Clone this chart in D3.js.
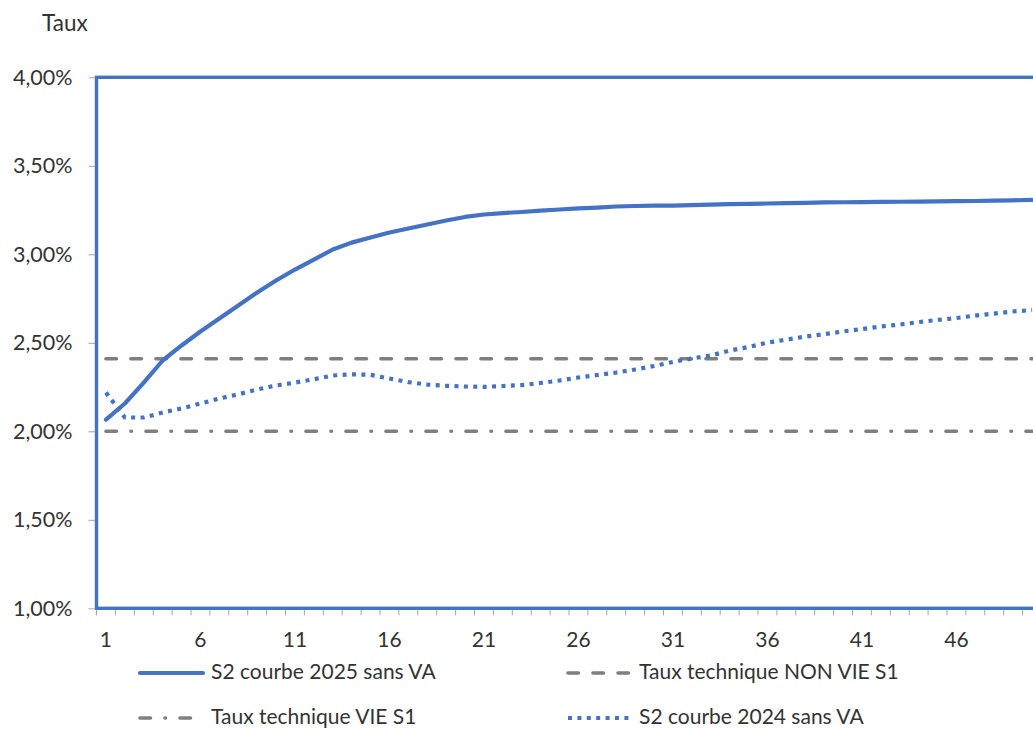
<!DOCTYPE html>
<html>
<head>
<meta charset="utf-8">
<script src="https://cdn.jsdelivr.net/npm/d3@7"></script>
<style>
  html, body { margin: 0; padding: 0; background: #ffffff; overflow: hidden; }
  svg { display: block; font-family: Lato, "Noto Sans", sans-serif; }
</style>
</head>
<body>
<svg id="chart" width="1033" height="729"></svg>
<script>
// ---- Data ----
const categories = d3.range(1, 51);
const yTicks = [1.0, 1.5, 2.0, 2.5, 3.0, 3.5, 4.0];
const xTickLabels = [1, 6, 11, 16, 21, 26, 31, 36, 41, 46];

const s2025 = [2.066, 2.157, 2.275, 2.400, 2.485, 2.564, 2.637, 2.711, 2.784, 2.852,
               2.914, 2.970, 3.027, 3.066, 3.095, 3.123, 3.146, 3.168, 3.191, 3.211,
               3.225, 3.233, 3.239, 3.247, 3.253, 3.259, 3.264, 3.270, 3.273, 3.275,
               3.275, 3.278, 3.281, 3.283, 3.285, 3.287, 3.289, 3.291, 3.293, 3.294,
               3.295, 3.296, 3.297, 3.298, 3.299, 3.300, 3.301, 3.303, 3.305, 3.307];
const s2024 = [2.219, 2.078, 2.078, 2.106, 2.129, 2.157, 2.185, 2.209, 2.236, 2.259,
               2.275, 2.294, 2.315, 2.322, 2.319, 2.298, 2.278, 2.264, 2.257, 2.253,
               2.251, 2.256, 2.261, 2.273, 2.287, 2.304, 2.318, 2.332, 2.349, 2.369,
               2.392, 2.411, 2.428, 2.456, 2.476, 2.501, 2.518, 2.535, 2.549, 2.564,
               2.578, 2.592, 2.603, 2.617, 2.629, 2.640, 2.654, 2.665, 2.677, 2.685];
const tauxNonVie = categories.map(() => 2.41);
const tauxVie = categories.map(() => 2.00);

const seriesNames = ["S2 courbe 2025 sans VA", "Taux technique NON VIE S1",
                     "Taux technique VIE S1", "S2 courbe 2024 sans VA"];

// ---- Layout ----
const svg = d3.select("#chart");
const pLeft = 96.5, pRight = 1041.5, pTop = 77.3, pBottom = 608.3;
const blue = "#4472C4", gray = "#7f7f7f", textColor = "#333333";

const x = d3.scaleBand().domain(categories).range([pLeft, pRight]).padding(0);
const xc = d => x(d) + x.bandwidth() / 2;
const y = d3.scaleLinear().domain([1, 4]).range([pBottom, pTop]);

// x-axis tick marks (category boundaries)
const boundaries = categories.map(c => x(c)).concat([x(categories[categories.length - 1]) + x.bandwidth()]);
svg.append("g").selectAll("line").data(boundaries).join("line")
  .attr("x1", d => d).attr("x2", d => d)
  .attr("y1", pBottom).attr("y2", pBottom + 7)
  .attr("stroke", "#a6a6a6").attr("stroke-width", 1);

// x-axis labels
const xAxis = d3.axisBottom(x).tickValues(xTickLabels).tickSize(0).tickPadding(24);
const gx = svg.append("g").attr("transform", `translate(0,${pBottom})`).call(xAxis);
gx.select(".domain").remove();
gx.selectAll("text").attr("font-size", 21).attr("fill", textColor)
  .attr("font-family", "Lato, 'Noto Sans', sans-serif");

// y-axis
const yAxis = d3.axisLeft(y).tickValues(yTicks).tickSize(8).tickPadding(16)
  .tickFormat(d => d.toFixed(2).replace(".", ",") + "%");
const gy = svg.append("g").attr("transform", `translate(${pLeft},0)`).call(yAxis);
gy.select(".domain").remove();
gy.selectAll("line").attr("stroke", "#a6a6a6");
gy.selectAll("text").attr("font-size", 21.5).attr("fill", textColor)
  .attr("font-family", "Lato, 'Noto Sans', sans-serif");

// y title
svg.append("text").attr("x", 42).attr("y", 25).attr("dominant-baseline", "middle")
  .attr("font-size", 22.5).attr("fill", textColor).text("Taux");

// lines
const line = d3.line().x((d, i) => xc(categories[i])).y(d => y(d));
const styles = [
  { data: s2025, color: blue, width: 4.2, dash: null, cap: "round" },
  { data: tauxNonVie, color: gray, width: 3.6, dash: "10.5,14.5", cap: "round" },
  { data: tauxVie, color: gray, width: 3.6, dash: "10.5,14.5,0.5,14.5", cap: "round" },
  { data: s2024, color: blue, width: 4.2, dash: "4,5.4", cap: "butt" }
];
const drawOrder = [1, 2, 3, 0];
drawOrder.forEach(k => {
  const s = styles[k];
  svg.append("path").datum(s.data)
    .attr("d", line).attr("fill", "none")
    .attr("stroke", s.color).attr("stroke-width", s.width)
    .attr("stroke-linecap", s.cap).attr("stroke-linejoin", "round")
    .attr("stroke-dasharray", s.dash);
});

// plot border
svg.append("rect").attr("x", pLeft).attr("y", pTop)
  .attr("width", pRight - pLeft).attr("height", pBottom - pTop)
  .attr("fill", "none").attr("stroke", blue).attr("stroke-width", 3.4);

// legend
const legendPos = [
  { lx: 140, ly: 673 }, { lx: 568, ly: 673 },
  { lx: 140, ly: 718 }, { lx: 568, ly: 718 }
];
const lg = svg.append("g");
seriesNames.forEach((name, k) => {
  const s = styles[k], p = legendPos[k];
  lg.append("line").attr("x1", p.lx).attr("x2", p.lx + 63)
    .attr("y1", p.ly).attr("y2", p.ly)
    .attr("stroke", s.color).attr("stroke-width", s.width)
    .attr("stroke-linecap", s.cap).attr("stroke-dasharray", s.dash);
  lg.append("text").attr("x", p.lx + 71).attr("y", p.ly + 1)
    .attr("dominant-baseline", "middle").attr("font-size", 21)
    .attr("fill", textColor).text(name);
});
</script>
</body>
</html>
